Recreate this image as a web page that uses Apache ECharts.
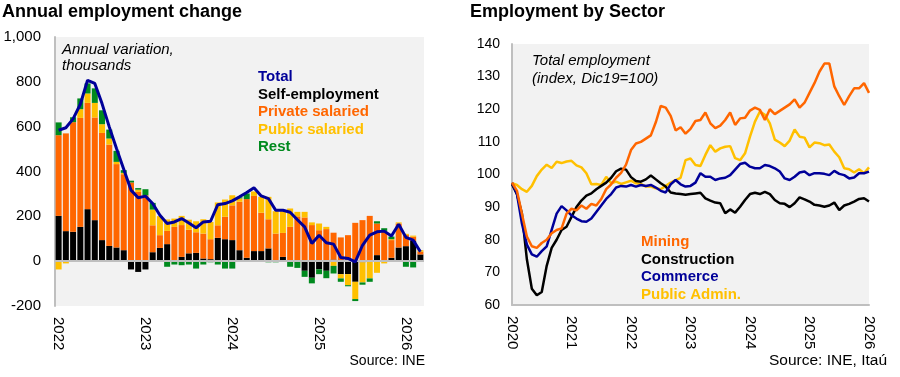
<!DOCTYPE html>
<html>
<head>
<meta charset="utf-8">
<script src="https://cdn.jsdelivr.net/npm/echarts@6/dist/echarts.min.js"></script>
<style>
  html, body { margin: 0; padding: 0; background: #fff; }
  #chart { width: 900px; height: 377px; }
</style>
</head>
<body>
<div id="chart"></div>
<script>
// left panel: annual change, thousands, Jan 2022 - Mar 2026
const monthsLeft = []
for (let y = 2022; y <= 2026; y++) {
  for (let m = 1; m <= 12; m++) {
    if (y === 2026 && m > 3) break
    monthsLeft.push(y + '-' + String(m).padStart(2, '0'))
  }
}
const selfEmployment = [202,134,131,153,232,183,94,68,61,49, -37,-48,-37,40,59,76,0,19,35,37,
  12,9,104,98,94,49,15,45,45,57, 4,19,4,0,-43,-74,-36,-43,7,-58, -58,-92,-5,0,27,0,15,61,67,90,30]
const privateSalaried = [360,436,489,486,474,458,478,452,372,339, 351,309,294,120,57,59,153,142,105,92,
  111,89,56,100,155,216,262,246,171,130, 119,107,149,200,195,161,138,143,120,106, 116,171,183,202,141,135,79,107,50,19,12]
const publicSalaried = [-37,-10,0,39,42,65,39,27,10,6, 0,10,0,70,85,51,37,41,45,49,
  64,77,102,77,45,15,0,20,71,100, 100,97,82,20,25,12,30,10,-21,-19, -49,-77,-90,-77,-52,-10,4,5,5,5,7]
const rest = [57,0,22,48,45,65,62,40,49,12, 8,7,27,30,0,-25,-15,-18,-15,-33,
  -15,-5,-15,-33,-33,5,25,0,0,-5, -5,0,-25,-30,-27,-25,-22,-33,-34,-15, -5,-9,-10,-15,10,12,12,0,-25,-28,-3]
const total = [584,595,635,700,807,793,703,599,503,410, 317,283,290,257,205,168,175,190,170,149,
  175,178,252,257,269,287,306,327,291,279, 227,227,218,185,153,79,116,82,76,16, 12,-3,71,116,131,134,112,165,106,94,42]

// right panel: index Dec19=100, Jan 2020 - Jan 2026
const monthsRight = []
for (let y = 2020; y <= 2026; y++) {
  for (let m = 1; m <= 12; m++) {
    if (y === 2026 && m > 1) break
    monthsRight.push(y + '-' + String(m).padStart(2, '0'))
  }
}
const mining = [97.5,95,88,81,78,77.5,79,80,82,83, 83.5,88,89.5,89,90.5,89.5,91,90.5,92.5,95.5,
  97,99,100.5,103,107.5,109.5,110,111,112,116, 121,120.5,118,113.5,114.5,112.5,114,116.4,116.7,119,
  115.7,114.2,115,116.7,119,115.2,117.2,117.4,119.6,120.5, 119.8,116.7,120,118.5,119.5,120.5,121.5,123,120.5,122,
  125,128,131.5,134,134,127,124,121.3,124,126.4, 126.4,128,125]
const construction = [97,94,88,74,65,63,64,72,77.5,80, 83,84,87,90,92,93.5,94.2,95.5,96.5,97.5,
  99,101,101.8,101.5,99.2,98,97.8,98.5,99.7,98.5, 97.3,96.3,94.5,94.2,94,93.8,94,94.2,94.4,92.7,
  92,91.4,91.2,88.1,89.3,88.3,90.1,92.2,94,94.4, 94,94.7,94,92.2,91.2,91,90,91.2,93,92.4,
  91.7,90.7,90.5,90.1,90.5,91.4,89.1,90.5,91,91.7, 92.5,92.7,91.7]
const commerce = [97.5,94,85,78.5,75.5,74.8,76.5,78,83,88, 90.3,89,87.5,86.5,85.7,85.5,86.5,88.5,90.5,92.5,
  94,96,96.5,96.3,96.8,96.3,96.8,96.5,96.8,96, 95,94.5,97,98.3,97,96.3,96.5,97.5,100.4,99.3,
  99.3,98.3,98.8,99,99.8,101.5,103.2,103.6,102.4,101.9, 101.9,102.9,102.6,101.9,100.9,98.8,98.3,99.3,100.6,100.9,
  99.8,100.4,100.4,100.2,99.8,101.1,100.2,99.8,98.8,99.1, 100.4,100.4,100.9]
const publicAdmin = [97.3,96.8,95.5,94.7,96.5,99.5,101.5,103,102,103.9, 103.5,104,104.2,102.8,102.2,100.4,97,97.1,96.8,99.3,
  97.3,97.8,97.1,97.6,98.1,97.3,97.1,96.3,96.3,95.8, 95.5,96.5,97.5,98.3,99,104.4,104.9,102.9,102.6,106,
  109,107,108,108.5,108.7,105,104.4,106.5,111.6,116.2, 119.3,118.3,115.7,110.7,109.8,108.7,110.4,113.8,111.6,111.3,
  108.3,109.8,109.6,109,109.2,107,105.3,101.9,101.6,100.6, 101.6,100.4,102.2]

const FONT = '"Liberation Sans", Arial, sans-serif'
const ORANGE = '#ff6600'
const YELLOW = '#ffc000'
const GREEN = '#008a1e'
const NAVY = '#000099'
const AXIS_GREY = '#bfbfbf'

const yearOnly = v => v.endsWith('-01') ? v.slice(0, 4) : ''

const chart = echarts.init(document.getElementById('chart'))

const barSeries = (name, data, color) => ({
  name, type: 'bar', stack: 'emp', data,
  xAxisIndex: 0, yAxisIndex: 0,
  barCategoryGap: '17%',
  itemStyle: { color }
})

const lineSeries = (name, data, color) => ({
  name, type: 'line', data,
  xAxisIndex: 1, yAxisIndex: 1,
  symbol: 'none',
  lineStyle: { color, width: 2.5 },
  itemStyle: { color }
})

const option = {
  animation: false,
  textStyle: { fontFamily: FONT },
  grid: [
    { left: 55, top: 37, width: 369, height: 269, show: true, backgroundColor: '#f2f2f2', borderWidth: 0 },
    { left: 512, top: 44, width: 357, height: 261, show: true, backgroundColor: '#f2f2f2', borderWidth: 0 }
  ],
  xAxis: [
    {
      type: 'category', gridIndex: 0, data: monthsLeft,
      axisLine: { show: false }, axisTick: { show: false },
      axisLabel: { interval: 0, rotate: -90, margin: 11, color: '#000', fontSize: 15, formatter: yearOnly }
    },
    {
      type: 'category', gridIndex: 1, data: monthsRight, boundaryGap: false,
      axisLine: { lineStyle: { color: AXIS_GREY, width: 2 } }, axisTick: { show: false },
      axisLabel: { interval: 0, rotate: -90, margin: 11, color: '#000', fontSize: 15, formatter: yearOnly }
    }
  ],
  yAxis: [
    {
      type: 'value', gridIndex: 0, min: -200, max: 1000, interval: 200,
      splitLine: { show: false },
      axisLine: { show: true, lineStyle: { color: AXIS_GREY, width: 2 } },
      axisLabel: { color: '#000', fontSize: 15, margin: 14, formatter: v => v.toLocaleString('en-US') }
    },
    {
      type: 'value', gridIndex: 1, min: 60, max: 140, interval: 10,
      splitLine: { show: false },
      axisLine: { show: true, lineStyle: { color: AXIS_GREY, width: 2 } },
      axisLabel: { color: '#000', fontSize: 14, margin: 12 }
    }
  ],
  legend: [
    {
      orient: 'vertical', left: 248, top: 63, icon: 'none', itemWidth: 0, itemHeight: 0, itemGap: 0,
      selectedMode: false,
      textStyle: { fontSize: 15, fontWeight: 'bold', lineHeight: 17.6 },
      data: [
        { name: 'Total', textStyle: { color: NAVY } },
        { name: 'Self-employment', textStyle: { color: '#000' } },
        { name: 'Private salaried', textStyle: { color: ORANGE } },
        { name: 'Public salaried', textStyle: { color: YELLOW } },
        { name: 'Rest', textStyle: { color: GREEN } }
      ]
    },
    {
      orient: 'vertical', left: 631, top: 228, icon: 'none', itemWidth: 0, itemHeight: 0, itemGap: 0,
      selectedMode: false,
      textStyle: { fontSize: 15, fontWeight: 'bold', lineHeight: 17.6 },
      data: [
        { name: 'Mining', textStyle: { color: ORANGE } },
        { name: 'Construction', textStyle: { color: '#000' } },
        { name: 'Commerce', textStyle: { color: NAVY } },
        { name: 'Public Admin.', textStyle: { color: YELLOW } }
      ]
    }
  ],
  graphic: [
    { type: 'text', left: 2, top: 3, style: { text: 'Annual employment change', font: 'bold 18px ' + FONT, fill: '#000' } },
    { type: 'text', left: 470, top: 3, style: { text: 'Employment by Sector', font: 'bold 18px ' + FONT, fill: '#000' } },
    { type: 'text', left: 62, top: 42, style: { text: 'Annual variation,\nthousands', font: 'italic 15px ' + FONT, lineHeight: 16, fill: '#000' } },
    { type: 'text', left: 532, top: 52, style: { text: 'Total employment\n(index, Dic19=100)', font: 'italic 15px ' + FONT, lineHeight: 17.6, fill: '#000' } },
    { type: 'text', right: 475, top: 354, style: { text: 'Source: INE', font: '14px ' + FONT, fill: '#000' } },
    { type: 'text', right: 13, top: 353, style: { text: 'Source: INE, Itaú', font: '15.5px ' + FONT, fill: '#000' } }
  ],
  series: [
    barSeries('Self-employment', selfEmployment, '#000'),
    barSeries('Private salaried', privateSalaried, ORANGE),
    barSeries('Public salaried', publicSalaried, YELLOW),
    barSeries('Rest', rest, GREEN),
    {
      name: 'Total', type: 'line', data: total,
      xAxisIndex: 0, yAxisIndex: 0,
      symbol: 'none', z: 5,
      lineStyle: { color: NAVY, width: 3 },
      itemStyle: { color: NAVY },
      markLine: {
        silent: true, symbol: 'none', label: { show: false },
        lineStyle: { color: AXIS_GREY, width: 2, type: 'solid' },
        data: [{ yAxis: 0 }]
      }
    },
    lineSeries('Public Admin.', publicAdmin, YELLOW),
    lineSeries('Construction', construction, '#000'),
    lineSeries('Commerce', commerce, NAVY),
    lineSeries('Mining', mining, ORANGE)
  ]
}

chart.setOption(option)
</script>
</body>
</html>
